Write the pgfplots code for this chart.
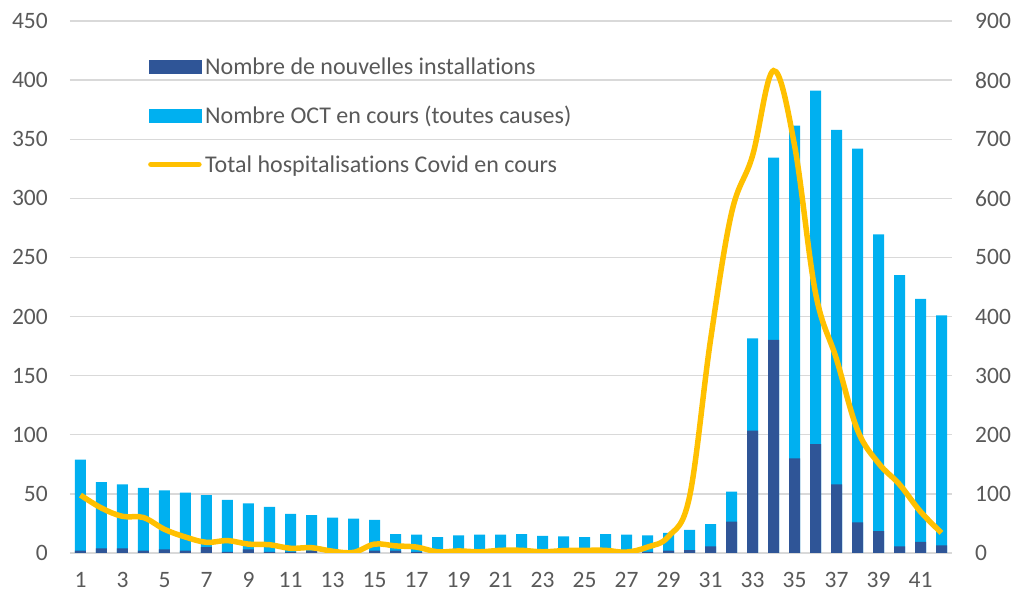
\documentclass[border=0pt]{standalone}
\usepackage{pgfplots}
\usepackage{pgfplotstable}
\pgfplotsset{compat=1.18}
\usepackage{fontspec}
\setmainfont{Carlito}[Ligatures=CommonOff]
\definecolor{dkblue}{HTML}{2F5597}
\definecolor{ltblue}{HTML}{00B0F0}
\definecolor{gold}{HTML}{FFC000}
\definecolor{txtgray}{HTML}{595959}
\definecolor{gridgray}{HTML}{D9D9D9}

\pgfplotstableread{
x oct new hosp
1 79 2 98
2 60 4 76
3 58 4 62
4 55 2 60
5 53 3 40
6 51 2 27
7 49 5 18
8 45 1 21
9 42 3 15
10 39 1 14
11 33 1 8
12 32 2 9
13 30 1 3
14 29 0 1
15 28 2 15
16 16 2 12
17 15.5 1 10
18 13.5 0 2
19 15 1 3.5
20 15.5 0 2
21 15.5 1 4.5
22 16 0 4.5
23 14.5 1 2
24 14 0 4
25 13.5 1 4.5
26 16 0 4.5
27 15.5 1 1.5
28 15 1 10
29 17 2 28
30 19.5 2.5 95
31 24.5 5.6 360
32 52 26.5 575
33 181.5 103.5 672
34 334.5 180.3 816
35 361.5 80 690
36 391 92 440
37 358 58 328
38 342 26 208
39 269.5 18.5 152
40 235 5.5 116
41 215 9.5 70
42 201 6.5 34
}\data

\begin{document}
\begin{tikzpicture}
\pgfplotsset{
  base/.style={
    scale only axis, width=882pt, height=532pt,
    xmin=0.5, xmax=42.5,
    /pgf/number format/assume math mode=true,
    tick label style={font=\fontsize{23.5}{28}\selectfont, text=txtgray},
    major tick length=0pt,
    axis line style={draw=none},
  }
}
\begin{axis}[base, ymin=0, ymax=450, ytick={0,50,...,450}, xtick={1,3,...,41},
  axis x line*=bottom, axis y line*=left,
  ymajorgrids, grid style={gridgray, line width=1.3pt},
  yticklabel style={anchor=east, inner sep=0pt, xshift=-22pt},
  xticklabel style={anchor=north, inner sep=0pt, yshift=-19pt},
]
\addplot[ybar, bar width=11pt, bar shift=0pt, fill=ltblue, draw=none] table[x=x,y=oct]{\data};
\addplot[ybar, bar width=11pt, bar shift=0pt, fill=dkblue, draw=none] table[x=x,y=new]{\data};
\end{axis}
\begin{axis}[base, ymin=0, ymax=900, ytick={0,100,...,900},
  hide x axis, axis y line*=right,
  yticklabel style={anchor=west, inner sep=0pt, xshift=23pt},
  legend style={at={(rel axis cs:0.0884,0.9332)}, anchor=north west,
    draw=none, fill=none, inner sep=0pt, row sep=30pt,
    nodes={inner sep=0pt, text=txtgray},
    font=\fontsize{24}{28}\selectfont,
    /tikz/every odd column/.append style={column sep=3.5pt}},
  legend cell align=left,
]
\addlegendimage{legend image code/.code={\fill[dkblue] (0pt,-6.5pt) rectangle (52pt,6.5pt);}}
\addlegendentry{\vphantom{Ag()}Nombre de nouvelles installations}
\addlegendimage{legend image code/.code={\fill[ltblue] (0pt,-6.5pt) rectangle (52pt,6.5pt);}}
\addlegendentry{\vphantom{Ag()}Nombre OCT en cours (toutes causes)}
\addlegendimage{legend image code/.code={\draw[gold, line width=5.5pt, line cap=round] (2pt,0pt) -- (50pt,0pt);}}
\addlegendentry{\vphantom{Ag()}Total hospitalisations Covid en cours}
\addplot[gold, line width=5.5pt, smooth, tension=0.6] table[x=x,y=hosp]{\data};
\end{axis}
\path (-70pt,-43pt) rectangle (943pt,553pt);
\end{tikzpicture}
\end{document}
